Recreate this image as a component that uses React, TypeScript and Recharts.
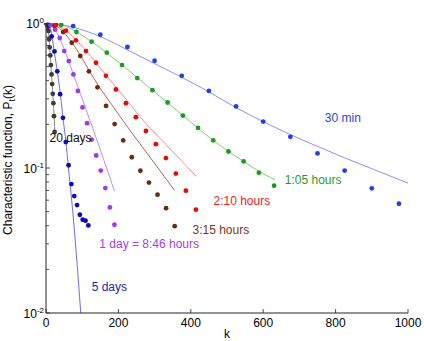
import React from 'react';
import { ComposedChart, XAxis, YAxis, Line, Scatter, ReferenceDot, Label } from 'recharts';

const FONT = '"Liberation Sans", Arial, Helvetica, sans-serif';
const AXIS = '#262626';

// measured points, k values and P_t(k)
const min30K = [75, 150, 225, 300, 375, 450, 525, 600, 675, 750, 825, 900, 975];
const min30P = [0.953, 0.83, 0.683, 0.549, 0.432, 0.34, 0.266, 0.209, 0.164, 0.126, 0.096, 0.0724, 0.0567];

const h105K = [42, 84, 126, 168, 210, 252, 294, 336, 378, 420, 462, 504, 546, 588, 630];
const h105P = [0.969, 0.867, 0.743, 0.624, 0.513, 0.417, 0.344, 0.283, 0.23, 0.189, 0.155, 0.13, 0.111, 0.0929, 0.0755];

const h210K = [27.6, 55.2, 82.8, 110.4, 138, 165.6, 193.2, 220.8, 248.4, 276, 303.6, 331.2, 358.8, 386.4, 414];
const h210P = [0.973, 0.885, 0.759, 0.64, 0.532, 0.432, 0.348, 0.28, 0.224, 0.18, 0.146, 0.117, 0.0915, 0.0698, 0.0516];

const h315K = [23.7, 47.4, 71.1, 94.8, 118.5, 142.2, 165.9, 189.6, 213.3, 237, 260.7, 284.4, 308.1, 331.8, 355.5];
const h315P = [0.958, 0.867, 0.731, 0.592, 0.464, 0.36, 0.268, 0.201, 0.155, 0.1186, 0.0957, 0.0793, 0.0655, 0.0528, 0.0397];

const day1K = [12.6, 25.2, 37.8, 50.4, 63, 75.6, 88.2, 100.8, 113.4, 126, 138.6, 151.2, 163.8, 176.4, 189];
const day1P = [0.969, 0.899, 0.788, 0.64, 0.546, 0.442, 0.34, 0.2615, 0.2037, 0.157, 0.122, 0.096, 0.0727, 0.0535, 0.0406];

const day5K = [7.8, 15.6, 23.4, 31.2, 39, 46.8, 54.6, 62.4, 70.2, 78, 85.8, 93.6, 101.4, 109.2, 117];
const day5P = [0.964, 0.809, 0.637, 0.464, 0.323, 0.222, 0.151, 0.1045, 0.0775, 0.064, 0.0555, 0.0476, 0.044, 0.0433, 0.0402];

const day20K = [0, 1.7, 3.4, 5.1, 6.8, 8.5, 10.2, 11.9, 13.6, 15.3, 17, 18.7, 20.4, 22.1, 23.8];
const day20P = [1, 0.992, 0.969, 0.938, 0.88, 0.772, 0.679, 0.598, 0.513, 0.442, 0.379, 0.3245, 0.28, 0.2277, 0.1774];

// fitted curves
const fit30K = [0, 75, 151, 226, 299, 376, 450, 526, 600, 675, 750, 825, 900, 1000];
const fit30P = [1, 0.935, 0.804, 0.651, 0.526, 0.421, 0.335, 0.26, 0.209, 0.17, 0.141, 0.1175, 0.0989, 0.0787];

const fit105K = [0, 42, 126, 210, 294, 378, 462, 546, 588, 632];
const fit105P = [1, 0.97, 0.743, 0.513, 0.344, 0.23, 0.155, 0.111, 0.095, 0.083];

const fit210K = [0, 55, 110, 166, 221, 276, 331, 387, 415];
const fit210P = [1, 0.885, 0.646, 0.437, 0.2985, 0.203, 0.1456, 0.1037, 0.0876];

const fit315K = [0, 27, 48, 72, 96, 120, 144, 177, 232, 287, 355];
const fit315P = [1, 0.958, 0.867, 0.731, 0.592, 0.466, 0.372, 0.284, 0.182, 0.119, 0.07];

const fitDay1K = [0, 25, 52, 75, 103, 149, 189];
const fitDay1P = [1, 0.899, 0.646, 0.447, 0.286, 0.136, 0.0693];

const fitDay5K = [0, 11, 16.6, 22.9, 31.2, 40, 48, 55, 62, 71, 83, 96];
const fitDay5P = [1, 0.94, 0.81, 0.63, 0.465, 0.318, 0.21, 0.152, 0.1, 0.06, 0.027, 0.01];

const fitDay20K = [0, 5, 10, 15, 20, 25];
const fitDay20P = [1, 0.94, 0.69, 0.45, 0.29, 0.17];

// curve labels
const labelText = ['30 min', '1:05 hours', '2:10 hours', '3:15 hours', '1 day = 8:46 hours', '5 days', '20 days'];
const labelK = [820, 738, 541, 483, 285, 175, 68];
const labelP = [0.2195, 0.0831, 0.0591, 0.0371, 0.0298, 0.01506, 0.161];

const xTicks = [0, 200, 400, 600, 800, 1000];
const yTicks = [
  0.01, 0.02, 0.03, 0.04, 0.05, 0.06, 0.07, 0.08, 0.09,
  0.1, 0.2, 0.3, 0.4, 0.5, 0.6, 0.7, 0.8, 0.9, 1,
];

const zip = (ks: number[], ps: number[]) => ks.map((k, i) => ({ k, p: ps[i] }));

const series = [
  { name: '20 days', dots: zip(day20K, day20P), fit: zip(fitDay20K, fitDay20P), dot: '#3c3c3c', line: '#8a8a8a', text: '#111111' },
  { name: '5 days', dots: zip(day5K, day5P), fit: zip(fitDay5K, fitDay5P), dot: '#0b0bc4', line: '#6e6cf0', text: '#2222cc' },
  { name: '1 day', dots: zip(day1K, day1P), fit: zip(fitDay1K, fitDay1P), dot: '#a533ff', line: '#c58cff', text: '#a63cff' },
  { name: '3:15', dots: zip(h315K, h315P), fit: zip(fit315K, fit315P), dot: '#6e2c0c', line: '#a6715c', text: '#7a3a14' },
  { name: '2:10', dots: zip(h210K, h210P), fit: zip(fit210K, fit210P), dot: '#ff0000', line: '#ff8a8a', text: '#ff1a1a' },
  { name: '1:05', dots: zip(h105K, h105P), fit: zip(fit105K, fit105P), dot: '#17a017', line: '#7dd36e', text: '#1ea01e' },
  { name: '30 min', dots: zip(min30K, min30P), fit: zip(fit30K, fit30P), dot: '#1f3cff', line: '#8a92ff', text: '#2a44ff' },
];
const labelColors = ['#2a44ff', '#1ea01e', '#ff1a1a', '#7a3a14', '#a63cff', '#2222cc', '#111111'];

const isMajor = (v: number) => Math.abs(Math.log10(v) - Math.round(Math.log10(v))) < 1e-6;

const LeftTick = (props: any) => {
  const { x, y, payload } = props;
  const v = payload.value;
  const axisX = x + 2;
  const major = isMajor(v);
  return (
    <g>
      <line x1={axisX} x2={axisX + (major ? 4 : 3)} y1={y} y2={y} stroke={AXIS} strokeWidth={0.8} />
      {major && (
        <text x={x} y={y + 5} textAnchor="end" fontSize={12} fill="#000" fontFamily={FONT}>
          10<tspan dy={-5} fontSize={8}>{Math.round(Math.log10(v))}</tspan>
        </text>
      )}
    </g>
  );
};

const RightTick = (props: any) => {
  const { x, y, payload } = props;
  const major = isMajor(payload.value);
  return <line x1={x} x2={x - (major ? 4 : 3)} y1={y} y2={y} stroke={AXIS} strokeWidth={0.8} />;
};

const BottomTick = (props: any) => {
  const { x, y, payload } = props;
  const axisY = y - 2;
  return (
    <g>
      <line x1={x} x2={x} y1={axisY} y2={axisY - 4} stroke={AXIS} strokeWidth={0.8} />
      <text x={x} y={axisY + 14} textAnchor="middle" fontSize={12} fill="#000" fontFamily={FONT}>
        {payload.value}
      </text>
    </g>
  );
};

const TopTick = (props: any) => {
  const { x, y } = props;
  return <line x1={x} x2={x} y1={y} y2={y + 4} stroke={AXIS} strokeWidth={0.8} />;
};

const Dot = (color: string) => (props: any) => (
  <circle cx={props.cx} cy={props.cy} r={2.4} fill={color} />
);

export default function App() {
  return (
    <div style={{ position: 'absolute', left: 0, top: 0, width: 424, height: 341, background: '#fff' }}>
      <ComposedChart width={424} height={341} margin={{ top: 23, right: 16, bottom: 0, left: 0 }}>
        <XAxis
          xAxisId="b"
          type="number"
          dataKey="k"
          domain={[0, 1000]}
          ticks={xTicks}
          interval={0}
          height={28}
          tickSize={0}
          tickMargin={2}
          tick={<BottomTick />}
          axisLine={{ stroke: AXIS }}
          tickLine={false}
        >
          <Label
            content={(p: any) => (
              <text x={p.viewBox.x + p.viewBox.width / 2} y={p.viewBox.y + 25} textAnchor="middle" fontSize={12} fontFamily={FONT} fill="#000">
                k
              </text>
            )}
          />
        </XAxis>
        <XAxis
          xAxisId="t"
          orientation="top"
          type="number"
          dataKey="k"
          domain={[0, 1000]}
          ticks={xTicks}
          interval={0}
          height={0}
          tickSize={0}
          tickMargin={0}
          tick={<TopTick />}
          axisLine={{ stroke: AXIS }}
          tickLine={false}
        >
          <Label
            content={(p: any) => (
              <text x={p.viewBox.x + p.viewBox.width / 2} y={p.viewBox.y - 9} textAnchor="middle" fontSize={12} fontFamily={FONT} fill="#000">
                IBM data,1993 −1999
              </text>
            )}
          />
        </XAxis>
        <YAxis
          yAxisId="l"
          type="number"
          dataKey="p"
          scale="log"
          domain={[0.01, 1]}
          allowDataOverflow
          ticks={yTicks}
          interval={0}
          width={46}
          tickSize={0}
          tickMargin={2}
          tick={<LeftTick />}
          axisLine={{ stroke: AXIS }}
          tickLine={false}
        >
          <Label
            content={(p: any) => {
              const cx = p.viewBox.x + 12;
              const cy = p.viewBox.y + p.viewBox.height / 2 - 8;
              return (
                <text transform={`translate(${cx},${cy}) rotate(-90)`} textAnchor="middle" fontSize={12} fontFamily={FONT} fill="#000">
                  Characteristic function, P<tspan dy={3} fontSize={9}>t</tspan>
                  <tspan dy={-3}>(k)</tspan>
                </text>
              );
            }}
          />
        </YAxis>
        <YAxis
          yAxisId="r"
          orientation="right"
          type="number"
          dataKey="p"
          scale="log"
          domain={[0.01, 1]}
          allowDataOverflow
          ticks={yTicks}
          interval={0}
          width={0}
          tickSize={0}
          tickMargin={0}
          tick={<RightTick />}
          axisLine={{ stroke: AXIS }}
          tickLine={false}
        />

        {series.map((s) => (
          <Line
            key={`fit-${s.name}`}
            xAxisId="b"
            yAxisId="l"
            data={s.fit}
            dataKey="p"
            type="monotone"
            stroke={s.line}
            strokeWidth={1}
            dot={false}
            activeDot={false}
            isAnimationActive={false}
          />
        ))}
        {series.map((s) => (
          <Scatter
            key={`dots-${s.name}`}
            xAxisId="b"
            yAxisId="l"
            data={s.dots}
            dataKey="p"
            shape={Dot(s.dot)}
            isAnimationActive={false}
          />
        ))}

        {labelText.map((t, i) => (
          <ReferenceDot
            key={t}
            xAxisId="b"
            yAxisId="l"
            x={labelK[i]}
            y={labelP[i]}
            r={0}
            shape={(p: any) => (
              <text x={p.cx} y={p.cy + 4} textAnchor="middle" fontSize={12} fontFamily={FONT} fill={labelColors[i]}>
                {t}
              </text>
            )}
          />
        ))}
      </ComposedChart>
    </div>
  );
}
